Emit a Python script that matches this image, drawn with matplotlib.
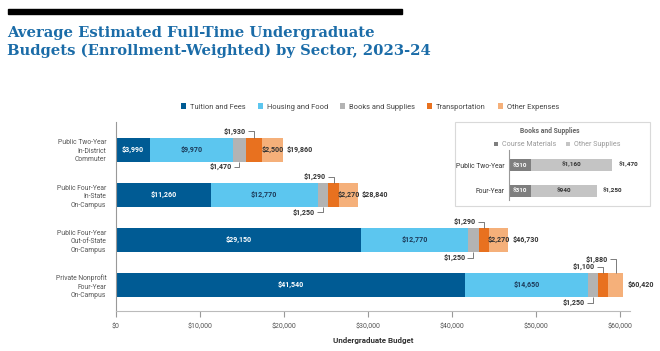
import matplotlib
matplotlib.use('Agg')
import matplotlib.pyplot as plt
from matplotlib.patches import Rectangle

plt.rcParams['font.family'] = ['Roboto', 'DejaVu Sans']

sectors = ["Public Two-Year\nIn-District\nCommuter",
           "Public Four-Year\nIn-State\nOn-Campus",
           "Public Four-Year\nOut-of-State\nOn-Campus",
           "Private Nonprofit\nFour-Year\nOn-Campus"]
categories = ["Tuition and Fees", "Housing and Food", "Books and Supplies",
              "Transportation", "Other Expenses"]
tuition = [3990, 11260, 29150, 41540]
housing = [9970, 12770, 12770, 14650]
books = [1470, 1250, 1250, 1250]
transport = [1930, 1290, 1290, 1100]
other = [2500, 2270, 2270, 1880]
totals = [19860, 28840, 46730, 60420]
xticks = [0, 10000, 20000, 30000, 40000, 50000, 60000]

inset_rows = ["Public Two-Year", "Four-Year"]
course_materials = [310, 310]
other_supplies = [1160, 940]
inset_totals = [1470, 1250]

COLORS = ["#005b94", "#5cc6ef", "#b3b3b3", "#e8711f", "#f5b07a"]
INSET_COLORS = ["#7f7f7f", "#c4c4c4"]
DARK = "#333333"
W, H = 660, 351
VAL_FS = 5.1


def fx(px):
    return px / W


def fy(py):
    return 1 - py / H


def money(v):
    return f"${v:,.0f}"


fig = plt.figure(figsize=(6.6, 3.51), dpi=100)

# header bar + title
fig.add_artist(Rectangle((fx(8), fy(14)), fx(394), 5 / H, color="black",
                         transform=fig.transFigure))
fig.text(fx(7), fy(26), "Average Estimated Full-Time Undergraduate\n"
         "Budgets (Enrollment-Weighted) by Sector, 2023-24",
         ha="left", va="top", fontsize=10.6, fontweight="bold",
         family="DejaVu Serif", color="#1b6ca8", linespacing=1.33)

# inset frame (drawn under everything)
fig.add_artist(Rectangle((fx(455), fy(206)), fx(195), 84 / H, facecolor="white",
                         edgecolor="#d9d9d9", lw=0.8, transform=fig.transFigure,
                         zorder=-1))

# main chart
ax = fig.add_axes([fx(116), fy(311), fx(514), (311 - 122) / H])
ax.patch.set_visible(False)
series = [tuition, housing, books, transport, other]
ypos = list(range(len(sectors)))
bh = 0.53
left = [0] * len(sectors)
starts = []
for vals, color, name in zip(series, COLORS, categories):
    ax.barh(ypos, vals, left=left, height=bh, color=color, label=name)
    starts.append(list(left))
    left = [l + v for l, v in zip(left, vals)]

ax.set_xlim(0, 61200)
ax.set_ylim(3.57, -0.61)
ax.set_yticks(ypos)
ax.set_yticklabels(sectors, fontsize=4.9, color="#555555", linespacing=1.3)
ax.tick_params(axis="y", length=0, pad=7)
ax.set_xticks(xticks)
ax.set_xticklabels([money(t) for t in xticks], fontsize=5, color="#555555")
ax.tick_params(axis="x", length=4, color="#999999", pad=5)
ax.set_xlabel("Undergraduate Budget", fontsize=5.8, fontweight="bold",
              color=DARK, labelpad=5)
for s in ["top", "right"]:
    ax.spines[s].set_visible(False)
ax.spines["left"].set_color("#999999")
ax.spines["bottom"].set_color("#bbbbbb")


def leader(ax, x, y, ytxt, text):
    # elbow line from bar edge to a label on the left
    edge = y - bh / 2 if ytxt < y else y + bh / 2
    ax.plot([x, x, x - 700], [edge, ytxt, ytxt], color="#666666", lw=0.6,
            solid_capstyle="butt")
    ax.text(x - 950, ytxt, text, ha="right", va="center", fontsize=VAL_FS,
            fontweight="bold", color=DARK)


for i, y in enumerate(ypos):
    ax.text(starts[0][i] + tuition[i] / 2, y, money(tuition[i]), ha="center",
            va="center", fontsize=VAL_FS, fontweight="bold", color="white")
    ax.text(starts[1][i] + housing[i] / 2, y, money(housing[i]), ha="center",
            va="center", fontsize=VAL_FS, fontweight="bold", color="#1d3b5a")
    leader(ax, starts[2][i] + books[i] / 2, y, y + 0.39, money(books[i]))
    leader(ax, starts[3][i] + transport[i] / 2, y, y - 0.40, money(transport[i]))
    if other[i] >= 2000:
        ax.text(starts[4][i] + other[i] / 2, y, money(other[i]), ha="center",
                va="center", fontsize=VAL_FS, fontweight="bold", color=DARK)
    else:
        leader(ax, starts[4][i] + other[i] / 2, y, y - 0.57, money(other[i]))
    ax.text(totals[i] + 450, y, money(totals[i]), ha="left", va="center",
            fontsize=VAL_FS, fontweight="bold", color=DARK)

handles, labels = ax.get_legend_handles_labels()
fig.legend(handles, labels, loc="center", bbox_to_anchor=(fx(370), fy(107)),
           ncol=5, frameon=False, fontsize=5.4, handlelength=0.7,
           handleheight=0.7, handletextpad=0.5, columnspacing=1.6,
           labelcolor="#444444")

# inset: books and supplies
fig.text(fx(550), fy(131), "Books and Supplies", ha="center", va="center",
         fontsize=4.9, fontweight="bold", color="#666666")
iax = fig.add_axes([fx(509), fy(200), fx(130), 50 / H], zorder=2)
iax.patch.set_alpha(0)
ileft = [0, 0]
for vals, color, name in zip([course_materials, other_supplies], INSET_COLORS,
                             ["Course Materials", "Other Supplies"]):
    iax.barh([0, 1], vals, left=ileft, height=0.44, color=color, label=name)
    for j in range(2):
        iax.text(ileft[j] + vals[j] / 2, j, money(vals[j]), ha="center",
                 va="center", fontsize=4.6, fontweight="bold",
                 color="white" if color == INSET_COLORS[0] else DARK)
    ileft = [l + v for l, v in zip(ileft, vals)]
for j in range(2):
    iax.text(inset_totals[j] + 90, j, money(inset_totals[j]), ha="left",
             va="center", fontsize=4.6, fontweight="bold", color=DARK)
iax.set_xlim(0, 1850)
iax.set_ylim(1.35, -0.58)
iax.set_yticks([0, 1])
iax.set_yticklabels(inset_rows, fontsize=4.9, color=DARK)
iax.tick_params(axis="y", length=0, pad=3)
iax.set_xticks([])
for s in ["top", "right", "bottom"]:
    iax.spines[s].set_visible(False)
iax.spines["left"].set_color("#999999")
ih, il = iax.get_legend_handles_labels()
fig.legend(ih, il, loc="center", bbox_to_anchor=(fx(557), fy(145)), ncol=2,
           frameon=False, fontsize=5.1, handlelength=0.6, handleheight=0.6,
           handletextpad=0.5, columnspacing=1.4, labelcolor="#999999")

fig.savefig("out.png", dpi=100)
